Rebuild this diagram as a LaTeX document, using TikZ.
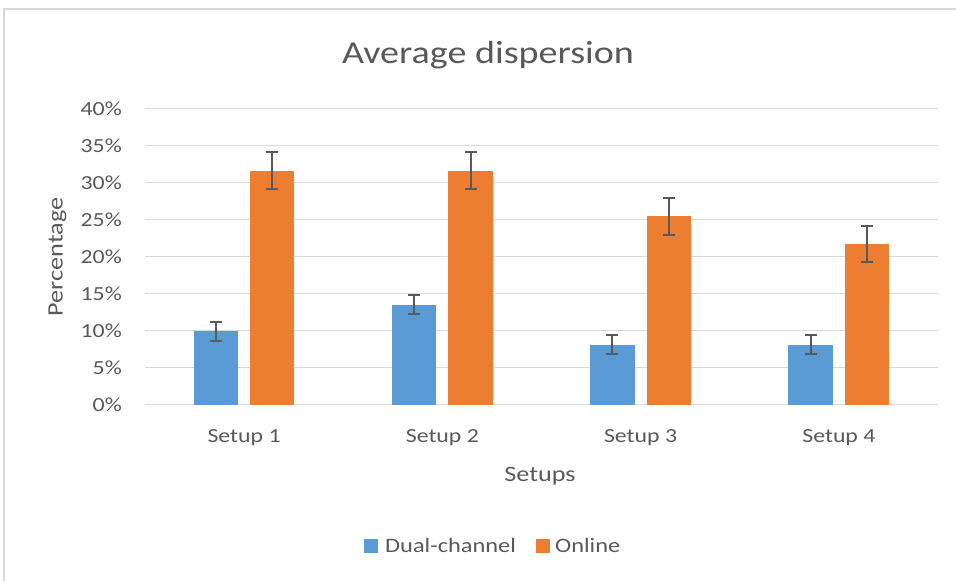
\documentclass[tikz,border=0pt]{standalone}
\usepackage{fontspec}
\setmainfont{Carlito}[FakeStretch=1.19]
\definecolor{txtc}{HTML}{595959}
\definecolor{gridc}{HTML}{D9D9D9}
\definecolor{framec}{HTML}{D9D9D9}
\definecolor{barblue}{HTML}{5B9BD5}
\definecolor{barorange}{HTML}{ED7D31}
\definecolor{errc}{HTML}{595959}
\tikzset{
  gridline/.style={draw=gridc, line width=1.3pt},
  ticklab/.style={text=txtc, font=\fontsize{20}{24}\selectfont, anchor=east, inner sep=0pt},
  catlab/.style={text=txtc, font=\fontsize{20}{24}\selectfont, anchor=base, inner sep=0pt},
  axtitle/.style={text=txtc, font=\fontsize{22}{26}\selectfont, anchor=base, inner sep=0pt},
  charttitle/.style={text=txtc, font=\fontsize{32}{38}\selectfont, anchor=base, inner sep=0pt},
  legtext/.style={text=txtc, font=\fontsize{20.5}{24}\selectfont, anchor=base west, inner sep=0pt},
  errbar/.style={draw=errc, line width=2pt},
  bluebar/.style={fill=barblue, draw=none},
  orangebar/.style={fill=barorange, draw=none},
  legbox/.style={minimum width=14pt, minimum height=13.5pt, inner sep=0pt, draw=none},
}
\begin{document}
\begin{tikzpicture}[x=1pt,y=-1pt]
\useasboundingbox (0,0) rectangle (956,581);
% chart frame
\coordinate (fbl) at (4,581);
\coordinate (ftl) at (4,9);
\coordinate (ftr) at (956,9);
\draw[draw=framec, line width=1.3pt] (fbl) -- (ftl) -- (ftr);
% gridlines and tick labels
\foreach \p in {0,...,8} {
  \pgfmathsetmacro{\yy}{404.5-37*\p}
  \pgfmathtruncatemacro{\pc}{5*\p}
  \coordinate (gl\p) at (145,\yy);
  \coordinate (gr\p) at (938,\yy);
  \draw[gridline] (gl\p) -- (gr\p);
  \node[ticklab] (tick\p) at (122,\yy) {\pc\%};
}
% bars: center x, top y, error half-length
\foreach \i/\cx/\top/\e in {1/215.8/331/9.5, 2/414.1/304.6/9.5, 3/612.3/344.6/9.5, 4/810.6/344.8/9.5} {
  \coordinate (bbl\i) at ({\cx-22.3},404.5);
  \coordinate (btr\i) at ({\cx+22.3},\top);
  \fill[bluebar] (bbl\i) rectangle (btr\i);
  \coordinate (bet\i) at (\cx,{\top-\e});
  \coordinate (beb\i) at (\cx,{\top+\e});
  \draw[errbar] (bet\i) -- (beb\i);
  \draw[errbar] ([xshift=-6pt]bet\i) -- ([xshift=6pt]bet\i);
  \draw[errbar] ([xshift=-6pt]beb\i) -- ([xshift=6pt]beb\i);
}
\foreach \i/\cx/\top/\e in {1/272.2/170.7/18.3, 2/470.5/170.7/18.3, 3/668.7/216.4/18.2, 4/867/244.2/18.2} {
  \coordinate (obl\i) at ({\cx-22.2},404.5);
  \coordinate (otr\i) at ({\cx+22.2},\top);
  \fill[orangebar] (obl\i) rectangle (otr\i);
  \coordinate (oet\i) at (\cx,{\top-\e});
  \coordinate (oeb\i) at (\cx,{\top+\e});
  \draw[errbar] (oet\i) -- (oeb\i);
  \draw[errbar] ([xshift=-6pt]oet\i) -- ([xshift=6pt]oet\i);
  \draw[errbar] ([xshift=-6pt]oeb\i) -- ([xshift=6pt]oeb\i);
}
% category labels
\node[catlab] (s1) at (244.1,442.7) {Setup 1};
\node[catlab] (s2) at (442.4,442.7) {Setup 2};
\node[catlab] (s3) at (640.6,442.7) {Setup 3};
\node[catlab] (s4) at (838.9,442.7) {Setup 4};
% axis titles
\node[axtitle] (xtitle) at (540,481) {Setups};
\node[axtitle, rotate=90] (ytitle) at (62.5,257) {Percentage};
% chart title
\node[charttitle] (title) at (488,63.3) {Average dispersion};
% legend
\node[legbox, fill=barblue] (lb) at (371.2,546) {};
\node[legtext] (lbt) at (385,552.7) {Dual-channel};
\node[legbox, fill=barorange] (lo) at (542.7,546) {};
\node[legtext] (lot) at (555,552.7) {Online};
\end{tikzpicture}
\end{document}
